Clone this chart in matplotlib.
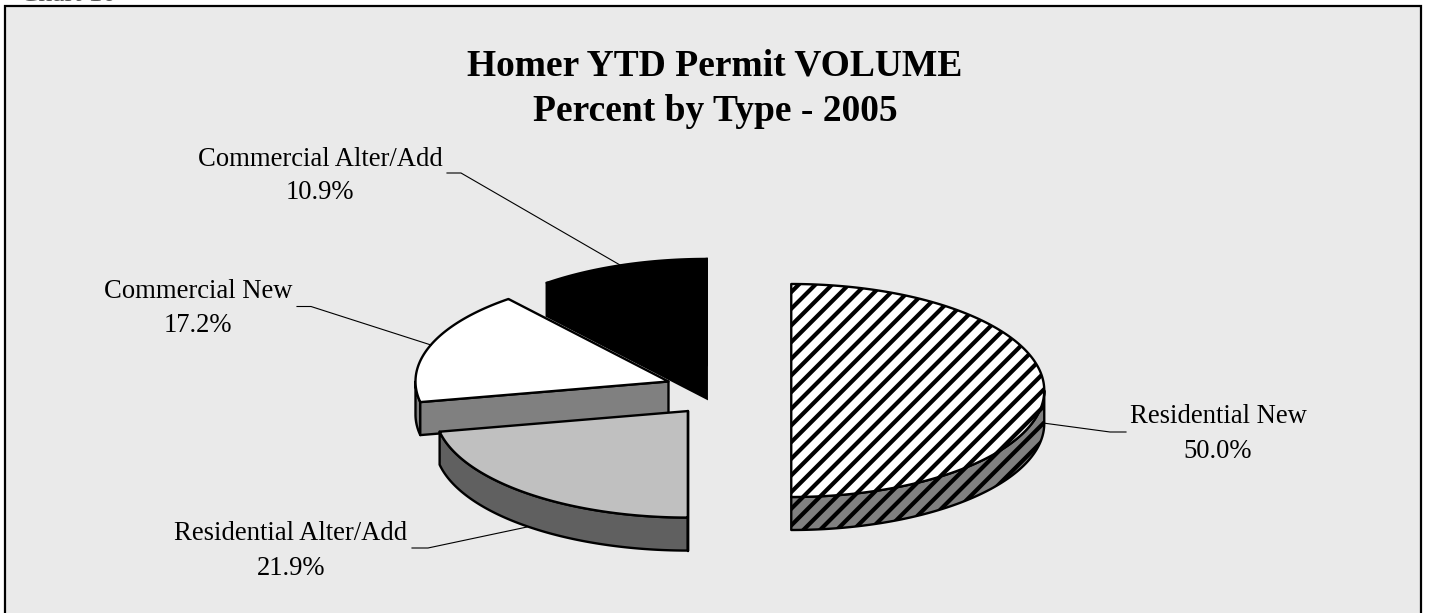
import numpy as np
import matplotlib
matplotlib.use("Agg")
import matplotlib.pyplot as plt
from matplotlib.patches import Polygon, Rectangle

plt.rcParams['font.family'] = ['Liberation Serif', 'DejaVu Serif']
plt.rcParams['hatch.linewidth'] = 3.0

# data
categories = ["Residential New", "Residential Alter/Add", "Commercial New", "Commercial Alter/Add"]
shares = [50.0, 21.9, 17.2, 10.9]
top_colors = ["white", "#C0C0C0", "white", "black"]
side_colors = ["#808080", "#606060", "#808080", "black"]
hatches = ["//", None, None, None]

# pie geometry, in pixels of the picture
W, H = 1429, 613
cx, cy = 728, 390.5
rx, ry = 253, 106.5
depth = 33
explode = 0.25

fig = plt.figure(figsize=(W/100, H/100), dpi=100)
ax = fig.add_axes([0, 0, 1, 1])
ax.set_xlim(0, W)
ax.set_ylim(H, 0)
ax.axis("off")

# chart area
ax.add_patch(Rectangle((5.5, 6), 1415.5, H + 10, facecolor="#EAEAEA", edgecolor="black", linewidth=1.6))

ax.text(20, 0.6, "Chart 10", fontsize=20, color="#555555", va="baseline", ha="left")


def ell(a, b, theta):
    return a + rx*np.sin(theta), b - ry*np.cos(theta)


# angles run clockwise from 12 o'clock, like the spreadsheet pie
edges = np.radians(np.concatenate([[0], np.cumsum(shares)]) * 3.6)
slices = []
for i in range(len(shares)):
    t0, t1 = edges[i], edges[i+1]
    mid = (t0 + t1)/2
    slices.append((i, t0, t1, cx + explode*rx*np.sin(mid), cy - explode*ry*np.cos(mid)))

# paint back to front
for i, t0, t1, ax0, ay0 in reversed(slices):
    style = dict(edgecolor="black", linewidth=1.7, joinstyle="round")
    hatch = hatches[i]

    # outer wall, only the part facing the viewer (90 to 270 degrees)
    w0, w1 = max(t0, np.pi/2), min(t1, 3*np.pi/2)
    if w1 > w0:
        th = np.linspace(w0, w1, 120)
        x, y = ell(ax0, ay0, th)
        wall = np.vstack([np.c_[x, y], np.c_[x[::-1], y[::-1] + depth]])
        ax.add_patch(Polygon(wall, closed=True, facecolor=side_colors[i], hatch=hatch, **style))

    # cut face on the left of the slice, seen when it ends below the horizontal
    if np.pi/2 < t0 < 3*np.pi/2:
        x0, y0 = ell(ax0, ay0, t0)
        face = [(ax0, ay0), (x0, y0), (x0, y0 + depth), (ax0, ay0 + depth)]
        ax.add_patch(Polygon(face, closed=True, facecolor=side_colors[i], hatch=hatch, **style))

    # black slice: its hidden side still shows as a solid block
    if i == 3:
        x, y = ell(ax0, ay0, np.array([t0, t1]))
        block = [(x[0], y[0]), (x[0], y[0] + depth), (ax0, ay0 + depth), (ax0, y[1])]
        ax.add_patch(Polygon(block, closed=True, facecolor="black", edgecolor="black", linewidth=1.7))

    # top face
    th = np.linspace(t0, t1, 240)
    x, y = ell(ax0, ay0, th)
    top = np.vstack([[ax0, ay0], np.c_[x, y]])
    ax.add_patch(Polygon(top, closed=True, facecolor=top_colors[i], hatch=hatch, **style))

# leader lines
leaders = [
    [(1126, 432), (1110, 432), (1043, 423)],
    [(412, 548), (428, 548), (527, 527)],
    [(297, 306.5), (311, 306.5), (431, 345)],
    [(447, 173), (461, 173), (620, 265)],
]
for pts in leaders:
    ax.plot([p[0] for p in pts], [p[1] for p in pts], color="black", lw=0.8, solid_joinstyle="miter")

# labels: centre x, baseline of first line, baseline of second line
label_pos = [(1218, 423, 458), (291, 540, 575), (198, 298, 332), (320, 166, 199)]
for name, share, (lx, y1, y2) in zip(categories, shares, label_pos):
    ax.text(lx, y1, name, fontsize=19.2, ha="center", va="baseline", color="black")
    ax.text(lx, y2, f"{share:.1f}%", fontsize=19.2, ha="center", va="baseline", color="black")

ax.text(715, 76, "Homer YTD Permit VOLUME", fontsize=27, fontweight="bold", ha="center", va="baseline")
ax.text(715, 121, "Percent by Type - 2005", fontsize=27, fontweight="bold", ha="center", va="baseline")

fig.savefig("out.png", dpi=100)
